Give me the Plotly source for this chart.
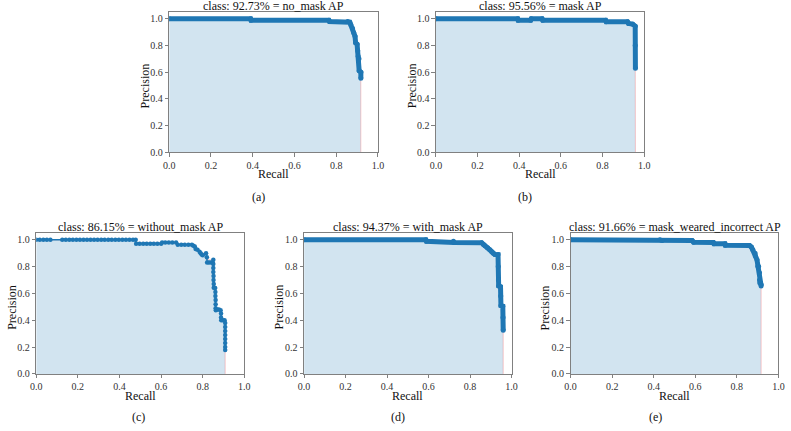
import numpy as np
import plotly.graph_objects as go

# ---------------- data ----------------
titles = ["class: 92.73% = no_mask AP",
          "class: 95.56% = mask AP",
          "class: 86.15% = without_mask AP",
          "class: 94.37% = with_mask AP",
          "class: 91.66% = mask_weared_incorrect AP"]
sub_labels = ["(a)", "(b)", "(c)", "(d)", "(e)"]
tick_vals = [0.0, 0.2, 0.4, 0.6, 0.8, 1.0]
tick_text = ["0.0", "0.2", "0.4", "0.6", "0.8", "1.0"]

no_mask_recall = [0.0, 0.39, 0.392, 0.765, 0.768, 0.855, 0.865, 0.87, 0.878, 0.884, 0.89,
                  0.893, 0.9, 0.903, 0.905, 0.909, 0.91, 0.918, 0.918]
no_mask_precision = [1.0, 1.0, 0.99, 0.99, 0.98, 0.98, 0.975, 0.955, 0.93, 0.895, 0.87,
                     0.82, 0.81, 0.76, 0.72, 0.70, 0.61, 0.60, 0.555]

mask_recall = [0.0, 0.393, 0.395, 0.455, 0.458, 0.51, 0.513, 0.815, 0.818, 0.92, 0.925,
               0.945, 0.957, 0.957, 0.958]
mask_precision = [1.0, 1.0, 0.99, 0.99, 1.0, 1.0, 0.99, 0.99, 0.978, 0.978, 0.965,
                  0.96, 0.945, 0.80, 0.63]

without_mask_recall = [0.0, 0.017, 0.034, 0.051, 0.068, 0.125, 0.142, 0.159, 0.176, 0.193,
                       0.21, 0.227, 0.244, 0.261, 0.278, 0.295, 0.312, 0.329, 0.346, 0.363,
                       0.38, 0.397, 0.414, 0.431, 0.448, 0.465, 0.478,
                       0.48, 0.497, 0.514, 0.531, 0.548, 0.565, 0.582, 0.60,
                       0.605, 0.62, 0.637, 0.654, 0.672,
                       0.68, 0.697, 0.714, 0.731, 0.748,
                       0.755, 0.762, 0.766, 0.775, 0.785, 0.79, 0.795, 0.80, 0.816,
                       0.82, 0.821, 0.83, 0.84, 0.848, 0.851, 0.851, 0.851, 0.851, 0.852,
                       0.852, 0.853, 0.853, 0.86, 0.861, 0.861, 0.862, 0.862, 0.862, 0.863,
                       0.87, 0.878, 0.886, 0.888, 0.888, 0.889, 0.897, 0.905, 0.908, 0.908,
                       0.908, 0.908, 0.908, 0.908, 0.908, 0.908]
without_mask_precision = [1.0, 1.0, 1.0, 1.0, 1.0, 1.0, 1.0, 1.0, 1.0, 1.0,
                          1.0, 1.0, 1.0, 1.0, 1.0, 1.0, 1.0, 1.0, 1.0, 1.0,
                          1.0, 1.0, 1.0, 1.0, 1.0, 1.0, 1.0,
                          0.97, 0.97, 0.97, 0.97, 0.97, 0.97, 0.97, 0.97,
                          0.98, 0.98, 0.98, 0.98, 0.98,
                          0.963, 0.963, 0.963, 0.963, 0.963,
                          0.955, 0.95, 0.93, 0.925, 0.91, 0.90, 0.89, 0.885, 0.90,
                          0.87, 0.83, 0.83, 0.83, 0.83, 0.85, 0.82, 0.79, 0.76, 0.73,
                          0.70, 0.67, 0.643, 0.64, 0.61, 0.58, 0.55, 0.52, 0.49, 0.475,
                          0.48, 0.48, 0.475, 0.45, 0.42, 0.40, 0.40, 0.40, 0.38, 0.35,
                          0.32, 0.29, 0.26, 0.23, 0.20, 0.178]

with_mask_recall = [0.0, 0.587, 0.59, 0.72, 0.723, 0.856, 0.865, 0.872, 0.885, 0.896, 0.905,
                    0.911, 0.92, 0.935, 0.936, 0.937, 0.938, 0.947, 0.948, 0.949, 0.958,
                    0.959, 0.96]
with_mask_precision = [1.0, 1.0, 0.988, 0.988, 0.979, 0.977, 0.965, 0.955, 0.94, 0.926, 0.91,
                       0.90, 0.89, 0.889, 0.80, 0.70, 0.656, 0.65, 0.58, 0.509, 0.505,
                       0.42, 0.325]

incorrect_recall = [0.0, 0.43, 0.44, 0.585, 0.592, 0.687, 0.69, 0.743, 0.745, 0.861, 0.87,
                    0.877, 0.888, 0.89, 0.897, 0.901, 0.905, 0.909, 0.909, 0.91, 0.917, 0.917]
incorrect_precision = [1.0, 1.0, 0.994, 0.994, 0.982, 0.98, 0.97, 0.97, 0.958, 0.957, 0.945,
                       0.926, 0.90, 0.876, 0.85, 0.803, 0.80, 0.754, 0.70, 0.68, 0.665, 0.656]

recalls = [no_mask_recall, mask_recall, without_mask_recall, with_mask_recall, incorrect_recall]
precisions = [no_mask_precision, mask_precision, without_mask_precision,
              with_mask_precision, incorrect_precision]

# ---------------- layout geometry (pixels) ----------------
W, H = 791, 431
# (left, right, top, bottom) of each plot area in pixels
boxes = [(165.7, 377.7, 12.3, 154.3),
         (436.5, 648.0, 12.3, 154.3),
         (30.7, 242.0, 236.3, 379.2),
         (302.7, 513.3, 236.3, 379.2),
         (573.3, 784.3, 236.3, 379.2)]
line_widths = [5, 5, 1.5, 5, 5]
marker_sizes = [5, 5, 4.5, 5, 5]
ylabel_x = [141.5, 412.3, 6.5, 277.3, 547.3]
sub_pos = [(256, 200), (527, 200), (135, 423), (398, 423), (660, 423)]

FONT = "Liberation Serif"
BLUE = "#1f77b4"
AXC = "#808080"

fig = go.Figure()
annotations = []
layout = dict(width=W, height=H, autosize=False,
              margin=dict(l=0, r=0, t=0, b=0),
              paper_bgcolor="white", plot_bgcolor="white",
              showlegend=False, font=dict(family=FONT, color="#222"))

def px_x(v):
    return v / W

def px_y(v):
    return 1 - v / H

for i in range(5):
    n = "" if i == 0 else str(i + 1)
    xa, ya = "x" + n, "y" + n
    l, r, t, b = boxes[i]
    rec = np.array(recalls[i])
    prec = np.array(precisions[i])
    env = np.maximum.accumulate(prec[::-1])[::-1]
    fx = np.concatenate([[0.0], rec, [rec[-1]]])
    fy = np.concatenate([[env[0]], env, [0.0]])
    fig.add_trace(go.Scatter(x=fx, y=fy, mode="lines", fill="tozeroy",
                             fillcolor="rgba(31,119,180,0.2)",
                             line=dict(color="rgba(255,0,0,0.2)", width=1),
                             xaxis=xa, yaxis=ya, hoverinfo="skip"))
    fig.add_trace(go.Scatter(x=rec, y=prec, mode="lines+markers",
                             line=dict(color=BLUE, width=line_widths[i]),
                             marker=dict(color=BLUE, size=marker_sizes[i]),
                             xaxis=xa, yaxis=ya))
    axis_common = dict(showline=True, mirror=True, linecolor=AXC, linewidth=1,
                       ticks="outside", ticklen=3.5, tickcolor=AXC, tickwidth=1,
                       showgrid=False, zeroline=False,
                       tickvals=tick_vals, ticktext=tick_text,
                       tickfont=dict(family=FONT, size=10, color="#333"))
    layout["xaxis" + n] = dict(axis_common, domain=[px_x(l), px_x(r)], range=[0, 1.0],
                               anchor=ya)
    layout["yaxis" + n] = dict(axis_common, domain=[px_y(b), px_y(t)], range=[0, 1.05],
                               anchor=xa)
    cx = (l + r) / 2
    annotations.append(dict(text=titles[i], x=px_x(cx), y=px_y(t - 6.0), xref="paper",
                            yref="paper", xanchor="center", yanchor="middle",
                            showarrow=False, font=dict(family=FONT, size=12, color="#111")))
    annotations.append(dict(text="Recall", x=px_x(cx), y=px_y(b + 22), xref="paper",
                            yref="paper", xanchor="center", yanchor="middle",
                            showarrow=False, font=dict(family=FONT, size=12, color="#111")))
    annotations.append(dict(text="Precision", x=px_x(ylabel_x[i]), y=px_y((t + b) / 2 + 4),
                            xref="paper", yref="paper", xanchor="center", yanchor="middle",
                            textangle=-90, showarrow=False,
                            font=dict(family=FONT, size=12, color="#111")))
    sx, sy = sub_pos[i]
    annotations.append(dict(text=sub_labels[i], x=px_x(sx), y=px_y(sy), xref="paper",
                            yref="paper", xanchor="center", yanchor="middle",
                            showarrow=False, font=dict(family=FONT, size=12, color="#111")))

layout["annotations"] = annotations
fig.update_layout(**layout)
fig.write_html("out.html", config={"displayModeBar": False},
               post_script="document.body.style.margin='0';document.body.style.padding='0';")
